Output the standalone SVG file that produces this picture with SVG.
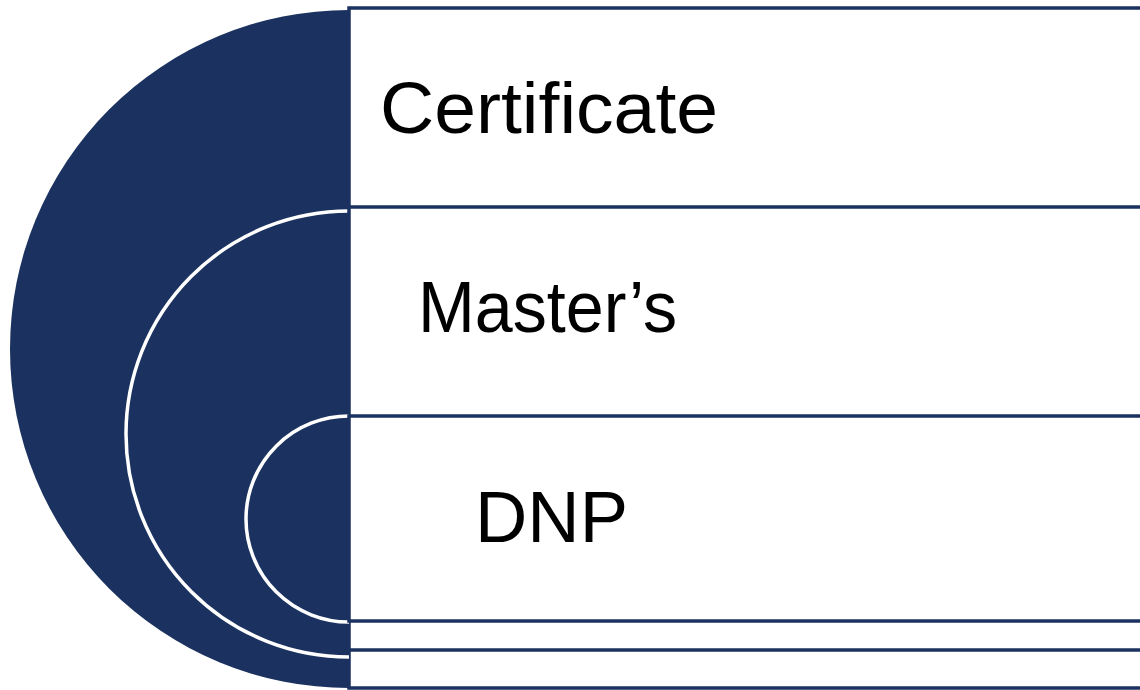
<svg xmlns="http://www.w3.org/2000/svg" width="1140" height="690" viewBox="0 0 1140 690">
  <style>
    .disc { fill: #1b3260; }
    .ring { fill: #1b3260; stroke: #ffffff; stroke-width: 3.5; }
    .box { fill: #ffffff; stroke: #1b3260; stroke-width: 3.5; }
    .label { font-family: "Liberation Sans", Arial, sans-serif; font-size: 73px; fill: #000000; }
  </style>
  <rect width="1140" height="690" fill="#ffffff"/>
  <g id="outer">
    <path class="disc" d="M 349 10 A 339 339 0 0 0 349 688 Z"/>
    <rect class="box" x="349" y="8" width="820" height="680"/>
    <text class="label" x="380" y="133" textLength="338" lengthAdjust="spacingAndGlyphs">Certificate</text>
  </g>
  <g id="middle">
    <path class="ring" d="M 349 211 A 223 223 0 0 0 349 657"/>
    <rect class="box" x="349" y="207" width="820" height="443"/>
    <text class="label" x="418" y="332" textLength="259" lengthAdjust="spacingAndGlyphs">Master’s</text>
  </g>
  <g id="inner">
    <path class="ring" d="M 349 416 A 103 103 0 0 0 349 622"/>
    <rect class="box" x="349" y="416" width="820" height="205"/>
    <text class="label" x="475" y="542" textLength="153" lengthAdjust="spacingAndGlyphs">DNP</text>
  </g>
  <g id="connectors"></g>
</svg>
